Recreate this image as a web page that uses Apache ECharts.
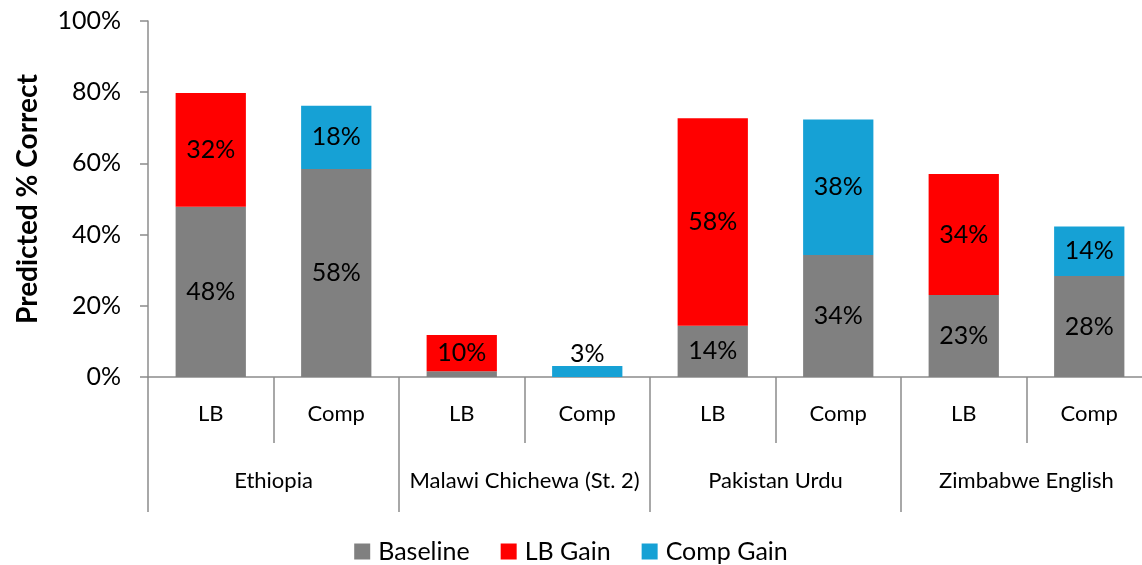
<!DOCTYPE html>
<html>
<head>
<meta charset="utf-8">
<script src="https://cdn.jsdelivr.net/npm/echarts@6/dist/echarts.min.js"></script>
<style>html,body{margin:0;padding:0;background:#fff}#c{width:1142px;height:565px}</style>
</head>
<body>
<div id="c"></div>
<script>
var groups = ['LB', 'Comp', 'LB', 'Comp', 'LB', 'Comp', 'LB', 'Comp'];
var countries = ['Ethiopia', 'Malawi Chichewa (St. 2)', 'Pakistan Urdu', 'Zimbabwe English'];
var baseline = [47.8, 58.4, 1.6, 0, 14.4, 34.3, 23.0, 28.4];
var lbGain   = [32.0, null, 10.2, null, 58.3, null, 34.0, null];
var compGain = [null, 17.8, null, 3.1, null, 38.0, null, 13.9];
var baselineLabelShown = [true, true, false, false, true, true, true, true];
var yTicks = [0, 20, 40, 60, 80, 100];

var FONT = 'Lato';
var AXIS = '#8c8c8c';

function pct(p) { return Math.round(p.value) + '%'; }

var baseData = baseline.map(function (v, i) {
  return { value: v, label: { show: baselineLabelShown[i] } };
});
var compData = compGain.map(function (v, i) {
  if (v === null) return '-';
  if (v < 5) return { value: v, label: { position: 'top', distance: 0 } };
  return v;
});
var lbData = lbGain.map(function (v) { return v === null ? '-' : v; });

var labelStyle = { show: true, position: 'inside', color: '#000', fontFamily: FONT, fontSize: 25, formatter: pct };

var chart = echarts.init(document.getElementById('c'), null, { renderer: 'canvas' });
chart.setOption({
  animation: false,
  textStyle: { fontFamily: FONT },
  grid: { left: 148, width: 1004, top: 21, bottom: 188, containLabel: false, outerBoundsMode: 'none' },
  legend: {
    top: 534, left: 'center',
    itemWidth: 16, itemHeight: 16, itemGap: 31,
    icon: 'rect',
    textStyle: { fontFamily: FONT, fontSize: 25, color: '#000', padding: [0, 0, 0, 3] },
    data: ['Baseline', 'LB Gain', 'Comp Gain']
  },
  xAxis: [{
    type: 'category', data: groups, position: 'bottom',
    axisLine: { lineStyle: { color: AXIS, width: 1.5 } },
    axisTick: { show: true, interval: 0, length: 66, lineStyle: { color: AXIS, width: 1.5 } },
    axisLabel: { interval: 0, margin: 26, color: '#000', fontFamily: FONT, fontSize: 22 }
  }, {
    type: 'category', data: countries, position: 'bottom',
    axisLine: { show: false },
    axisTick: { show: true, interval: 0, length: 135, lineStyle: { color: AXIS, width: 1.5 } },
    axisLabel: { interval: 0, margin: 93, color: '#000', fontFamily: FONT, fontSize: 22 }
  }],
  yAxis: {
    type: 'value', min: 0, max: 100, interval: 20,
    name: 'Predicted % Correct', nameLocation: 'middle', nameRotate: 90, nameGap: 106,
    nameTextStyle: { fontFamily: FONT, fontSize: 28, fontWeight: 'bold', color: '#000' },
    axisLine: { show: true, lineStyle: { color: AXIS, width: 1.5 } },
    axisTick: { show: true, length: 8, lineStyle: { color: AXIS, width: 1.5 } },
    splitLine: { show: false },
    axisLabel: {
      margin: 27, color: '#000', fontFamily: FONT, fontSize: 25,
      formatter: function (v) { return yTicks.indexOf(v) >= 0 ? v + '%' : ''; }
    }
  },
  series: [{
    name: 'Baseline', type: 'bar', stack: 's', barWidth: '56%',
    itemStyle: { color: '#808080' }, label: labelStyle, data: baseData
  }, {
    name: 'LB Gain', type: 'bar', stack: 's', barWidth: '56%',
    itemStyle: { color: '#ff0000' }, label: labelStyle, data: lbData
  }, {
    name: 'Comp Gain', type: 'bar', stack: 's', barWidth: '56%',
    itemStyle: { color: '#16a1d5' }, label: labelStyle, data: compData
  }]
});
</script>
</body>
</html>
